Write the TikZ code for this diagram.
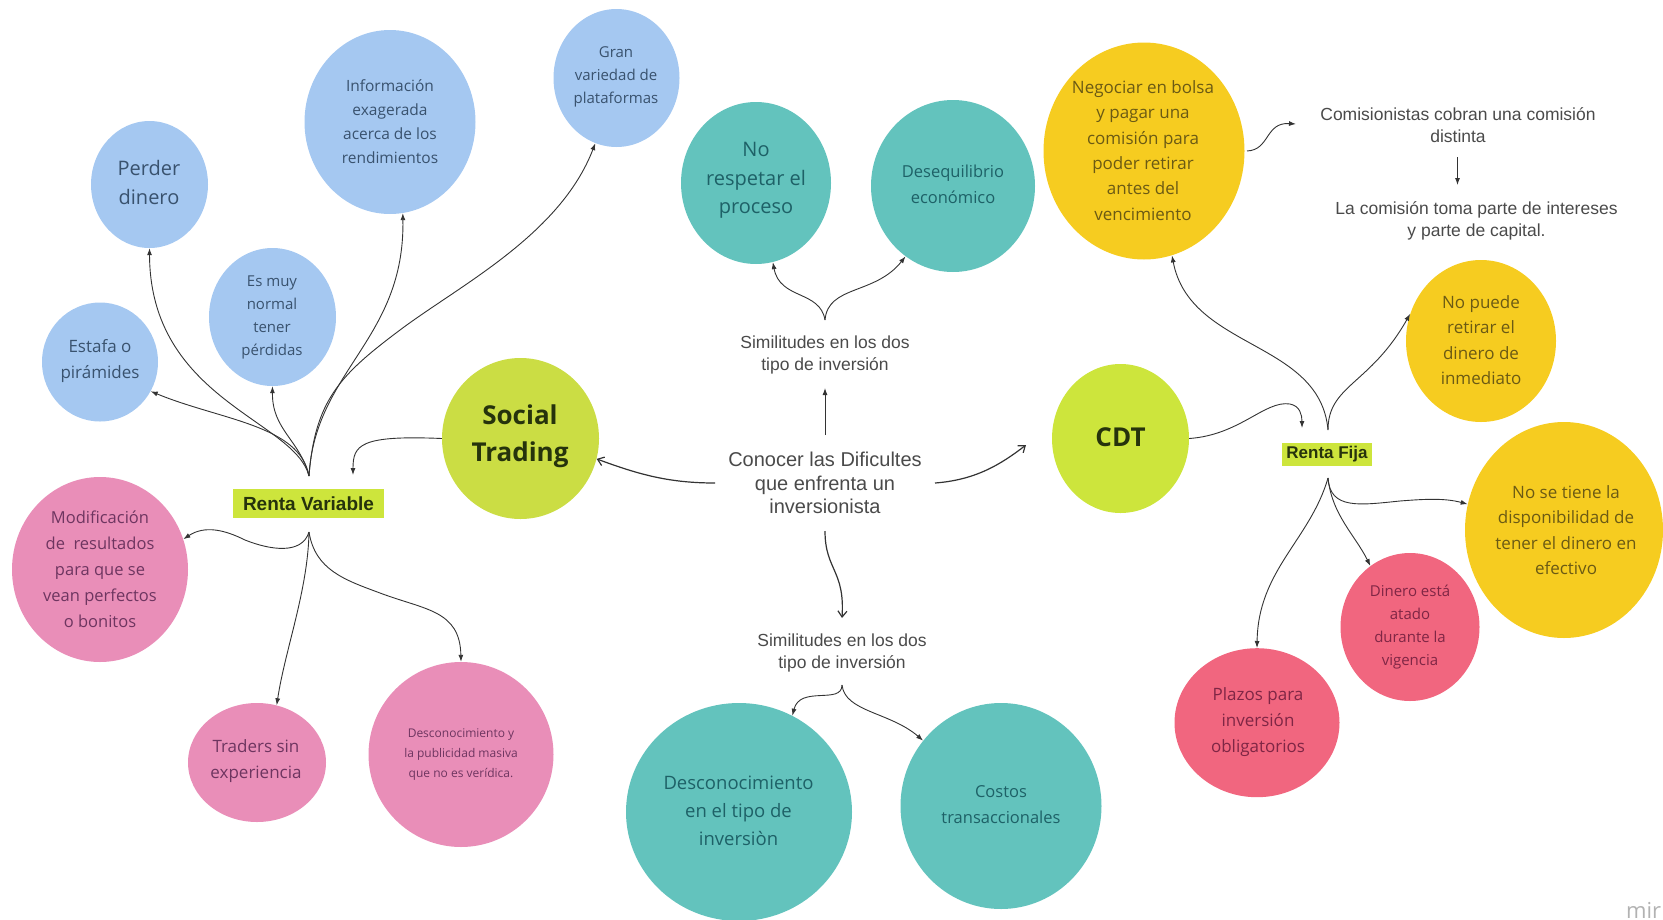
\documentclass[tikz,border=0pt]{standalone}
\usepackage{fontspec}
\setmainfont{Open Sans}
\newfontfamily\arialf{Liberation Sans}
\usetikzlibrary{shapes.geometric,arrows.meta}
\definecolor{cblue}{HTML}{A5C8F1}
\definecolor{cteal}{HTML}{63C3BD}
\definecolor{cpink}{HTML}{E98EB8}
\definecolor{cyel}{HTML}{F6CC20}
\definecolor{clime}{HTML}{CBDD44}
\definecolor{clime2}{HTML}{CDE53C}
\definecolor{cred}{HTML}{F1667F}
\definecolor{tblue}{HTML}{39526E}
\definecolor{tteal}{HTML}{1E6167}
\definecolor{tpink}{HTML}{6E3560}
\definecolor{tyel}{HTML}{6B5A14}
\definecolor{tred}{HTML}{7F2645}
\definecolor{tgray}{HTML}{4A4A4A}
\definecolor{tdark}{HTML}{26330C}
\definecolor{cline}{HTML}{333333}
\newcommand{\fs}[2]{\fontsize{#1}{#2}\selectfont}
\tikzset{
  bub/.style={ellipse,inner sep=0pt,draw=none},
  lb/.style={inner sep=0pt,align=center},
  plain/.style={inner sep=0pt,align=center,text=tgray,font=\arialf\fs{17.5}{22}},
  tag/.style={inner sep=0pt,fill=clime2,text=tdark,font=\arialf\bfseries\fs{19}{22}},
  conn/.style={draw=cline,line width=0.9pt,-{Latex[length=7pt,width=5pt]}},
  connopen/.style={draw=cline,line width=1.2pt,-{Straight Barb[length=6pt,width=9pt]}}
}
\begin{document}
\begin{tikzpicture}[x=1pt,y=-1pt]
\useasboundingbox (0,0) rectangle (1663,919);
% blue
\node[bub,fill=cblue,minimum width=116,minimum height=119] (estafa) at (100,362) {};
\node[lb,text=tblue,font=\fs{17}{26}] (estafaT) at (100,361) {Estafa o\\pirámides};
\node[bub,fill=cblue,minimum width=117,minimum height=127] (perder) at (149.5,184.5) {};
\node[lb,text=tblue,font=\fs{20}{29}] (perderT) at (149,182) {Perder\\dinero};
\node[bub,fill=cblue,minimum width=127,minimum height=138] (esmuy) at (272.5,317) {};
\node[lb,text=tblue,font=\fs{15}{23}] (esmuyT) at (272,317) {Es muy\\normal\\tener\\pérdidas};
\node[bub,fill=cblue,minimum width=171,minimum height=184] (info) at (390,122) {};
\node[lb,text=tblue,font=\fs{15.5}{24}] (infoT) at (390,122) {Información\\exagerada\\acerca de los\\rendimientos};
\node[bub,fill=cblue,minimum width=126,minimum height=138] (gran) at (616.5,78) {};
\node[lb,text=tblue,font=\fs{15}{23}] (granT) at (616,77) {Gran\\variedad de\\plataformas};
% lime
\node[bub,fill=clime,minimum width=157,minimum height=161] (social) at (520.5,438.5) {};
\node[lb,text=tdark,font=\bfseries\fs{26}{37}] (socialT) at (520,436) {Social\\Trading};
\node[bub,fill=clime2,minimum width=137,minimum height=149] (cdt) at (1120.5,438.5) {};
\node[lb,text=tdark,font=\bfseries\fs{26}{30}] (cdtT) at (1120.5,437) {CDT};
% tags
\node[tag,minimum width=151,minimum height=29] (rv) at (308.5,503.5) {Renta Variable};
\node[tag,font=\arialf\bfseries\fs{17}{20},minimum width=90,minimum height=23] (rf) at (1327,454.5) {Renta Fija};
% pink
\node[bub,fill=cpink,minimum width=176,minimum height=185] (modif) at (100,569.5) {};
\node[lb,text=tpink,font=\fs{16.5}{26}] (modifT) at (100,569.5) {Modificación\\de\ \ resultados\\para que se\\vean perfectos\\o bonitos};
\node[bub,fill=cpink,minimum width=138,minimum height=119] (traders) at (257,762.5) {};
\node[lb,text=tpink,font=\fs{17}{26}] (tradersT) at (256,761) {Traders sin\\experiencia};
\node[bub,fill=cpink,minimum width=185,minimum height=185] (descy) at (461,754.5) {};
\node[lb,text=tpink,font=\fs{12}{20}] (descyT) at (461,755) {Desconocimiento y\\la publicidad masiva\\que no es verídica.};
% teal
\node[bub,fill=cteal,minimum width=226,minimum height=218] (desct) at (739,812) {};
\node[lb,text=tteal,font=\fs{18.5}{28}] (desctT) at (738.5,811) {Desconocimiento\\en el tipo de\\inversiòn};
\node[bub,fill=cteal,minimum width=201,minimum height=206] (costos) at (1001,806) {};
\node[lb,text=tteal,font=\fs{16.5}{26}] (costosT) at (1001,805) {Costos\\transaccionales};
\node[bub,fill=cteal,minimum width=150,minimum height=162] (respetar) at (756,183) {};
\node[lb,text=tteal,font=\fs{20}{28.5}] (respetarT) at (756,180.5) {No\\respetar el\\proceso};
\node[bub,fill=cteal,minimum width=164,minimum height=172] (deseq) at (953,186) {};
\node[lb,text=tteal,font=\fs{16.5}{26}] (deseqT) at (953,184) {Desequilibrio\\económico};
% yellow
\node[bub,fill=cyel,minimum width=201,minimum height=217] (negoc) at (1144,151) {};
\node[lb,text=tyel,font=\fs{17}{25.3}] (negocT) at (1143,150.5) {Negociar en bolsa\\y pagar una\\comisión para\\poder retirar\\antes del\\vencimiento};
\node[bub,fill=cyel,minimum width=150,minimum height=162] (nopuede) at (1481,341) {};
\node[lb,text=tyel,font=\fs{17}{25.3}] (nopuedeT) at (1481,340) {No puede\\retirar el\\dinero de\\inmediato};
\node[bub,fill=cyel,minimum width=198,minimum height=216] (nose) at (1564,530) {};
\node[lb,text=tyel,font=\fs{17}{25.3}] (noseT) at (1566,530) {No se tiene la\\disponibilidad de\\tener el dinero en\\efectivo};
% red
\node[bub,fill=cred,minimum width=139,minimum height=148] (dinero) at (1410,627) {};
\node[lb,text=tred,font=\fs{15}{23.3}] (dineroT) at (1410,627) {Dinero está\\atado\\durante la\\vigencia};
\node[bub,fill=cred,minimum width=165,minimum height=149] (plazos) at (1257,722.7) {};
\node[lb,text=tred,font=\fs{17}{26}] (plazosT) at (1258,722) {Plazos para\\inversión\\obligatorios};
% plain labels
\node[plain,font=\arialf\fs{20}{23.5}] (conocer) at (825,483) {Conocer las Dificultes\\que enfrenta un\\inversionista};
\node[plain] (simA) at (825,354.5) {Similitudes en los dos\\tipo de inversión};
\node[plain] (simB) at (842,652.5) {Similitudes en los dos\\tipo de inversión};
\node[plain] (comis) at (1458,125) {Comisionistas cobran una comisión\\distinta};
\node[plain] (latoma) at (1476.5,221) {La comisión toma parte de intereses\\y parte de capital.};
\node[inner sep=0pt,text=black!30,font=\fs{22}{24},anchor=west] (logo) at (1626,910) {mir};
% free ends
\coordinate (rvtop) at (309,476);
\coordinate (rvbot) at (309,532);
\coordinate (rvin) at (353,475);
\coordinate (rftop) at (1328,430);
\coordinate (rfbot) at (1328,478);
\coordinate (rfin) at (1302,428);
\coordinate (simAtop) at (825,320);
\coordinate (simAbot) at (825,388);
\coordinate (simBtop) at (842,618);
\coordinate (simBbot) at (842,685);
\coordinate (conT) at (825,435);
\coordinate (conB) at (825,531);
\coordinate (conL) at (715,483);
\coordinate (conR) at (935,483);
\coordinate (cdtIn) at (1026,445);
\coordinate (comIn) at (1296,124);
\coordinate (comB) at (1457.5,157);
\coordinate (latT) at (1457.5,185);
\coordinate (negOut) at (1247,151);
% left tree up
\draw[conn] (rvtop) .. controls (300,425) and (220,420) .. (estafa.-30);
\draw[conn] (rvtop) .. controls (295,420) and (150,400) .. (perder.south);
\draw[conn] (rvtop) .. controls (300,440) and (272,430) .. (esmuy.south);
\draw[conn] (rvtop) .. controls (315,370) and (405,340) .. (info.-82);
\draw[conn] (rvtop) .. controls (315,400) and (340,375) .. (400,330) .. controls (460,285) and (560,235) .. (gran.-108);
\draw[conn] (social.west) .. controls (360,435) and (353,445) .. (rvin);
% left tree down
\draw[conn] (rvbot) .. controls (302,555) and (270,550) .. (245,540) .. controls (225,530) and (205,525) .. (modif.20);
\draw[conn] (rvbot) .. controls (308,590) and (285,650) .. (traders.71);
\draw[conn] (rvbot) .. controls (315,570) and (345,580) .. (380,593) .. controls (425,610) and (460,610) .. (descy.north);
% centre
\draw[connopen] (conL) .. controls (670,483) and (640,475) .. (social.-15);
\draw[connopen] (conR) .. controls (975,480) and (1000,465) .. (cdtIn);
\draw[conn] (conT) -- (simAbot);
\draw[connopen] (conB) .. controls (825,570) and (845,570) .. (simBtop);
\draw[conn] (simAtop) .. controls (820,290) and (780,300) .. (respetar.-78);
\draw[conn] (simAtop) .. controls (828,285) and (875,295) .. (deseq.-124);
\draw[conn] (simBbot) .. controls (842,705) and (800,685) .. (desct.61);
\draw[conn] (simBbot) .. controls (845,712) and (890,712) .. (costos.140);
% right
\draw[conn] (negOut) .. controls (1270,150) and (1265,122) .. (comIn);
\draw[conn] (comB) -- (latT);
\draw[conn] (cdt.east) .. controls (1240,435) and (1265,400) .. (1290,404) .. controls (1300,406) and (1302,415) .. (rfin);
\draw[conn] (rftop) .. controls (1320,340) and (1190,350) .. (negoc.-75);
\draw[conn] (rftop) .. controls (1328,385) and (1370,385) .. (nopuede.159);
\draw[conn] (rfbot) .. controls (1330,510) and (1360,505) .. (1400,501) .. controls (1425,499) and (1445,498) .. (nose.165);
\draw[conn] (rfbot) .. controls (1332,515) and (1355,535) .. (dinero.123);
\draw[conn] (rfbot) .. controls (1310,540) and (1258,570) .. (plazos.north);
\end{tikzpicture}
\end{document}
